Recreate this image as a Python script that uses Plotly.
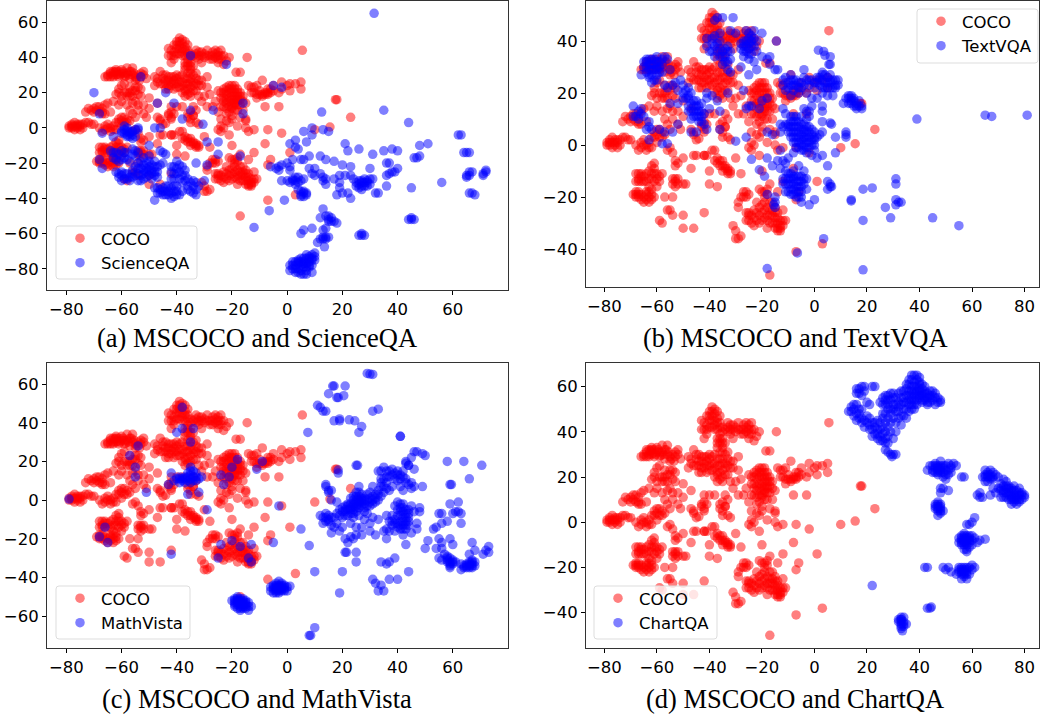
import plotly.graph_objects as go

coco_xy = [
(-79,1),(-78,0),(-78,2),(-77,3),(-76,0),(-76,2),(-75,1),(-75,-1),(-74,2),(-73,3),(-72,3),(-71,2),(-70,2),(-79,0),(-77,-1),(-74,0),
(-68,0),(-67,-2),(-66,1),(-66,-1),(-65,2),(-64,0),(-64,-2),(-63,1),(-62,3),(-62,-1),(-61,5),(-60,4),(-60,1),(-59,6),(-58,5),(-57,4),(-56,-2),(-54,-3),(-55,-1),(-53,-6),
(-73,9),(-72,11),(-70,11),(-69,10),(-68,12),(-67,11),(-66,13),(-68,9),(-65,14),(-64,9),(-66,8),(-63,15),(-61,13),(-60,15),
(-62,19),(-61,22),(-58,18),(-58,20),(-56,21),(-56,18),(-55,15),(-54,19),(-57,23),(-54,23),(-59,25),(-60,24),(-58,13),(-57,10),(-56,8),(-54,10),(-52,8),(-52,13),(-50,11),(-50,17),(-51,6),(-55,6),
(-66,29),(-65,30),(-64,31),(-64,29),(-63,32),(-63,30),(-62,33),(-62,30),(-61,32),(-61,29),(-60,31),(-60,33),(-59,29),(-58,31),(-58,34),(-57,28),(-57,32),(-56,30),(-56,34),(-55,27),(-55,29),(-54,30),(-53,29),(-52,30),(-52,32),(-51,28),
(-48,29),(-47,26),(-48,24),(-46,32),(-45,28),(-45,25),(-44,30),(-44,22),(-43,27),(-43,24),(-42,29),(-42,26),(-41,22),(-41,25),(-40,28),(-40,30),(-39,26),(-39,23),(-38,30),(-38,20),(-37,25),(-37,33),(-36,28),(-36,22),(-35,18),(-35,31),(-34,26),(-34,24),(-33,28),(-33,21),(-32,27),(-31,24),(-29,29),(-29,23),(-36,35),(-37,37),(-35,37),(-35,33),
(-43,41),(-43,45),(-42,37),(-41,41),(-41,43),(-41,47),(-40,49),(-40,45),(-39,51),(-39,47),(-39,42),(-38,50),(-38,48),(-38,45),(-37,49),(-37,41),(-37,44),(-36,39),(-36,42),(-35,40),(-33,44),(-33,42),(-32,43),(-32,39),(-31,37),(-31,41),(-30,40),(-29,44),(-28,41),(-27,39),(-27,43),(-26,44),(-26,40),(-25,37),(-25,41),(-24,39),(-24,44),(-23,41),(-23,36),(-22,38),(-21,40),(-14.5,40),
(-18.5,31.5),(-17,31.5),(5.5,44),
(-25,21),(-24,17),(-24,12),(-23,20),(-23,15),(-22,23),(-22,19),(-21,24),(-21,17),(-21,12),(-21,9),(-20,22),(-20,18),(-20,14),(-20,11),(-20,7),(-19,24),(-19,20),(-19,16),(-19,13),(-18,22),(-18,18),(-18,15),(-18,10),(-17,20),(-17,16),(-17,13),(-16,18),(-15,14),(-16,10),(-17,6),(-20,5),(-15,5),(-15,4),
(-14,24),(-13,20),(-12,23),(-11,24),(-11,17),(-10,19),(-9,18),(-9,27),(-8,20),(-8,12),(-7,19),(-7,22),(-6,20),(-6,22),(-5,21),(-5,24),(-3,12),(-3,20),(-2,22),(-2,26),(0,24),(1,25),(1,21),(3,25),(5,22),(5,26),(18,16),(17.5,16),(23,6),(15.5,0.5),(10,-1),
(-47,14),(-46,4),(-47,6),(-46,5),(-45,2),(-44,2.5),(-43,8),(-42,9),(-42,6),(-42,12),(-40,12),(-38,12),(-37,18),(-36,8),(-36,6),(-35,3),(-35,9),(-34,7),(-33,10),(-34,12),(-33,3),(-32,2),(-31,15),(-32,18),(-30,18),(-28,19),(-29,12),(-27,12),(-26,15),(-25,9),(-24,5),(-23,0),(-25,-1),(-24,-2),(-24,1),(-22,4),(-21,-4),(-21,3),(-18,1),(-15,0),(-14,-2),(-12,-1),(-7,-1),(-2,-3),(-30,-5),
(-50,-5),(-46,-4),(-45,-4),(-42,-4),(-41,-4),(-39,-2),(-38,-2),(-38,-6),(-37,-7),(-36,-6),(-36,-8),(-35,-8),(-34,-9),(-33,-10),(-33,-11),(-32,-11),(-47,-9),(-40,-10),(-40,-15),(-37,-16),(-28,-11),(-20,-10),(-8,-9),(-12,-14),(1,-14),(-6,-18),(-7,-21),
(-69,-19),(-68,-18),(-68,-20),(-67,-19),(-66,-21),(-68,-11),(-67,-13),(-68,-14),(-66,-11),(-65,-14),(-66,-12),(-65,-20),(-64,-21),(-64,-18),(-63,-22),(-63,-16),(-63,-10),(-62,-8),(-62,-13),(-62,-19),(-61,-7),(-61,-11),(-61,-20),(-60,-13),(-60,-16),(-59,-12),(-58,-11),(-57,-20),(-54,-15),(-54,-13),(-53,-14),(-52,-15),(-52,-13),(-53,-8),(-52,-7),(-50,-15),(-49,-15),(-54,-20),
(-59,-29),(-58,-30),(-56,-25),(-55,-25),(-54,-27),(-50,-27),(-50,-32),(-46,-32),(-42,-26),
(-28,-20),(-27,-18),(-26,-18),(-25,-19),(-29,-22),(-29,-24),(-26,-26),(-26,-29),(-25,-27),(-24,-30),(-23,-28),(-22,-22),(-22,-26),(-21,-17),(-21,-24),(-21,-30),(-20,-18),(-20,-26),(-19,-22),(-19,-28),(-18,-24),(-18,-19),(-18,-32),(-17,-25),(-17,-30),(-16,-22),(-16,-27),(-15,-24),(-15,-32),(-15,-28),(-14,-30),(-14,-26),(-14,-33),(-13,-32),(-13,-29),(-12,-29),(-11,-29),(-12,-25),(-14,-18),(-17,-15),
(-31,-31),(-30,-33),(-30,-36),(-29,-36),(-28,-35),(-7,-41),(3,-38),(-17,-50),
(-65,29),(-64,32),(-63,29),(-62.5,31.5),(-62,32),(-61.5,30.5),(-60.5,30),(-59.5,32),(-59,31),(-58.5,29.5),(-57.5,30),(-56.5,32),(-55.5,31),(-54.5,28),(-53.5,27),(-53,31),
(-61,20),(-60,18),(-59,20),(-57,18),(-57,20),(-55,21),(-55,23),(-53,22),(-53,18),(-56,14),(-54,13),
(-71,10),(-70,9),(-69,12),(-67,9),(-67,8),(-61,3),(-60,6),(-59,3),(-58,3),(-63,-1),(-65,0),(-77,1),(-76,1),(-78,1),(-75,2),
(-47,28),(-46,25),(-45,30),(-44,27),(-44,25),(-43,29),(-43,22),(-42,24),(-41,27),(-41,29),(-40,25),(-40,23),(-39,29),(-38,26),(-38,24),(-37,28),(-37,22),(-36,25),(-36,31),(-35,26),(-35,23),(-35,28),(-34,30),(-34,21),(-33,25),(-33,31),(-32,24),(-31,27),(-36,37),(-34,35),(-35,35),(-37,35),(-35,20),(-36,19),(-37,21),
(-42,44),(-42,41),(-41,39),(-40,42),(-40,47),(-39,45),(-39,49),(-38,43),(-38,41),(-37,46),(-36,44),(-36,47),(-35,42),(-34,41),(-33,40),(-32,41),(-31,43),(-30,42),(-29,41),(-28,39),(-27,41),(-26,42),(-25,39),(-24,41),(-25,43),
(-24,20),(-23,22),(-23,17),(-23,12),(-22,21),(-22,16),(-22,14),(-22,11),(-21,20),(-21,22),(-21,15),(-20,24),(-20,20),(-20,16),(-20,12),(-19,22),(-19,18),(-19,14),(-19,10),(-18,20),(-18,16),(-18,13),(-17,18),(-16,15),(-22,8),
(-12,20),(-11,19),(-10,21),(-9,19),(-8,19),(-7,20),(-13,23),
(-68,-19),(-67,-18),(-67,-20),(-66,-19),(-65,-22),(-64,-19),(-63,-20),(-63,-18),(-62,-21),(-62,-17),(-67,-11),(-67,-14),(-66,-14),(-65,-12),(-64,-14),(-64,-11),(-63,-13),(-62,-11),(-61,-9),(-61,-14),(-60,-11),(-59,-14),(-53,-13),(-53,-16),
(-27,-20),(-26,-20),(-25,-26),(-25,-29),(-24,-27),(-23,-25),(-23,-31),(-22,-29),(-21,-27),(-20,-23),(-20,-29),(-19,-25),(-19,-20),(-18,-27),(-18,-29),(-17,-22),(-17,-27),(-16,-25),(-16,-30),(-15,-26),(-15,-30),(-14,-28),(-13,-31),(-14,-32),(-13,-33),(-12,-31),(-19,-18),(-18,-17),
(-42,-4),(-37,-5),(-35,-6),(-34,-8),(-33,-9),(-35,-10),(-32,-10),(-34,7),(-35,5),(-43,7),(-41,8),(-42,5),
]

scienceqa_xy = [
(31.5,65),(-70,20),(-68,8),(-44,20),(-41,14),(-47,14),(-26.8,10),(-35,10),(-35,41),(-22,36),(-53,29),(-5,24),(-2,23),(-16,14),(-16,8),(-38,5),(-30.5,2),(-46,0),(-48,0),
(-60,-3),(-59,1),(-59,-3),(-58,-2),(-58,-4),(-57,-2),(-57,-5),(-56,-4),(-55,-5),(-55,-1),(-54,0),(-54,-1),(-63,-5),(-67,-3),(-29,-8),(-25,-8),(-25,-15),(-17,-16),
(-64,-13),(-63,-17),(-62,-14),(-61,-19),(-60,-13),(-60,-18),(-59,-14),(-58,-18),(-57,-19),(-56,-12),(-55,-13),(-54,-14),(-68,-18),(-67,-23),(-62,-25),(-61,-28),(-60,-27),(-60,-30),(-59,-26),(-58,-29),(-57,-30),(-56,-28),(-56,-24),(-55,-22),(-54,-26),(-54,-30),(-53,-19),(-53,-27),(-52,-17),(-52,-21),(-52,-24),(-52,-29),(-51,-25),(-51,-20),(-50,-16),(-50,-22),(-50,-27),(-50,-10),(-49,-29),(-48,-25),(-48,-19),(-48,-34),(-47,-22),(-47,-28),(-47,-37),(-46,-13),(-45,-14),(-45,-20),(-46,-35),(-45,-38),(-48,-41),(-44,-15),(-44,-36),(-43,-33),(-43,-38),(-42,-25),(-42,-29),(-42,-40),(-41,-36),(-41,-22),(-40,-19),(-40,-26),(-40,-33),(-39,-21),(-39,-38),(-38,-27),(-38,-31),(-38,-36),(-37,-24),(-36,-29),(-36,-33),(-35,-36),(-34,-37),(-34,-30),(-33,-31),(-33,-35),(-33,-38),(-32,-33),(-30,-30),(-33,-20),(-29,-21),
(-6,-22),(-4,-23),(-3,-24),(-3,-22),(-2,-21),(0,-20),(1,-22),(1,-24),(2,-18),(-2,-30),(0,-30),(1,-31),(2,-29),(3,-32),(3,-30),(4,-31),(4,-28),(5,-30),(6,-29),(5,-18),(6,-18),(5,-36),(5,-39),(6,-37),(6,-39),(7,-38),(4,-35),(1,-9),(3,-7),(3,-11),(4,-12),(6,-2),(9,0),(9,-4),(13,-1),(15,-2),(7,-8),
(8,-16),(8,-23),(9,-26),(10,-23),(10,-27),(12,-26),(13,-28),(13,-30),(14,-32),(14,-29),(12,-16),(14,-18),(13,-46),(12,-51),(14,-50),(15,-50),(16,-51),(15,-53),(17,-53),(18,-54),(14,-57),(13,-58),(12,-63),(13,-63),(14,-62),(15,-62),(11,-65),(13.5,-67.5),(5,-60),(6,-58),(9,-57),(-6.5,-47),(-1,-41),(-12,-56.5),(12.5,9),
(17,-29),(17,-19),(18,-38),(19,-27),(19,-31),(19,-34),(20,-21),(20,-37),(21,-27),(21,-9),(22,-13),(22,-37),(23,-27),(23,-22),(23,-40),(24,-29),(26,-12),(25,-33),(26,-32),(26,-34),(27,-30),(27,-35),(27,-33),(28,-31),(28,-29),(29,-33),(29,-30),(30,-29),(30,-32),(31,-29),(31,-15),(30,-23),(32,-37),(33,-37),(35,-13),(36,-20),(37,-20),(36,-27),(37,-26),(38,-25),(38,-12),(39,-25),(40,-23),(40,-13),(36,-33),(35,10),(44,3),(45,-34),(44,-52),(45,-52),(46,-52),(45,-51),(46,-17),(47,-17),(48,-16),(48,-10),(51,-9),(56,-31),(62,-4),(63,-4),(64,-14),(65,-14),(66,-14),(65,-28),(65,-27),(66,-27),(66,-25),(67,-25),(66,-37),(67,-37),(68,-38),(71,-27),(71,-26),(72,-25),(72,-24),(26,-61),(27,-61),(28,-61),(27,-60),
(1,-78),(1,-81),(2,-76),(2,-80),(3,-78),(3,-82),(4,-75),(4,-77),(4,-80),(5,-74),(5,-78),(5,-81),(6,-76),(6,-79),(6,-83),(7,-74),(7,-77),(7,-81),(8,-73),(8,-76),(8,-79),(9,-75),(9,-72),(9,-82),(10,-73),(10,-71),(10,-75),(7,-72),(9,-78),
(-59,-1),(-58,0),(-58,-5),(-57,-3),(-56,-2),(-56,-6),(-60,-2),(-63,-14),(-62,-18),(-61,-15),(-59,-17),(-58,-14),(-56,-15),(-55,-16),
(-61,-26),(-60,-25),(-59,-29),(-58,-26),(-57,-28),(-56,-26),(-55,-27),(-54,-23),(-54,-20),(-53,-23),(-53,-30),(-52,-26),(-51,-23),(-51,-28),(-50,-19),(-50,-24),(-49,-26),(-49,-21),(-49,-24),(-48,-22),(-48,-27),(-47,-25),(-46,-21),
(-47,-34),(-46,-37),(-45,-34),(-45,-36),(-44,-38),(-44,-33),(-43,-36),(-42,-34),(-42,-37),(-41,-39),(-41,-33),(-40,-36),(-40,-38),(-42,-22),(-41,-26),(-41,-29),(-40,-23),(-39,-25),(-39,-29),(-38,-22),(-37,-27),(-37,-30),(-36,-35),(-35,-31),(-34,-33),
(4,-76),(3,-80),(5,-76),(6,-77),(6,-74),(7,-79),(8,-78),(8,-74),(4,-82),(5,-83),(7,-83),(9,-74),(2,-78),(3,-76),
(28,-33),(29,-31),(27,-31),(25,-31),(26,-30),(15,-52),(16,-53),(13,-62),(14,-63),(5,-38),(6,-36),(7,-37),(2,-30),(3,-28),
]

textvqa_xy = [
(-65,32),(-65,30),(-64,33),(-64,28),(-63,31),(-63,26),(-62,33),(-62,29),(-61,25),(-61,31),(-60,27),(-60,34),(-59,30),(-58,33),(-58,28),(-57,34),(-56,33),(-66,27),(-62,24),(-60,25),(-55,29),
(-57,23),(-56,22),(-54,23),(-53,24),(-52,21),(-51,25),(-50,23),(-50,20),(-49,18),(-48,22),(-47,16),(-48,15),(-46,17),(-46,13),(-45,15),(-45,11),(-44,9),(-44,13),(-43,11),(-42,12),(-43,16),(-41,20),(-41,18),(-39,19),(-47,10),(-52,16),(-55,16),(-48,13),(-42,8),(-40,14),(-37,17),(-36,13),(-33,20),(-27,21),(-25,15),(-26,14),(-24,15),(-21,14),(-20,17),(-18,18),(-18,5),(-16,4),
(-69,15),(-69,11),(-68,11),(-67,13),(-67,10),(-66,12),(-66,14),(-65,11),(-64,6),(-63,9),(-62,6),(-63,7),(-59,6),(-57,5),(-54,5),(-52,8),(-63,2),(-58,0.5),
(-41,38),(-41,41),(-40,36),(-39,39),(-39,36),(-38,34),(-38,48),(-38,42),(-37,36),(-37,49),(-36,34),(-36,43),(-35,49),(-35,31),(-34,37),(-34,32),(-33,36),(-32,36),(-32,33),(-31,49),(-32,44),(-30,43),(-28,30),(-28,37),(-27,38),(-27,34),(-26,44),(-26,40),(-26,36),(-25,41),(-25,37),(-25,33),(-24,38),(-24,42),(-24,35),(-23,32),(-22,40),(-22,36),(-23,44),(-20,43),(-20,34),(-18,33),(-17,34),(-17,31),(-15,29),(-14,29),(-14.5,40),(-22,29),(-25,27),(-32,28),(-33,29),
(-12,23),(-12,25),(-11,26),(-11,21),(-10,24),(-9,19),(-9,23),(-9,27),(-8,21),(-8,25),(-7,23),(-6,20),(-6,24),(-5,22),(-4,29),(-4,26),(-4,23),(-3,25),(-3,20),(-2,23),(-1,18),(-1,25),(0,22),(1,24),(1,18),(2,26),(2,23),(3,25),(3,28),(3,20),(4,22),(4,27),(5,24),(5,19),(6,27),(6,22),(7,25),(7,19),(8,22),(8,25),(9,25),(9,23),(1.5,36.5),(3.5,36),(4,34.5),(6,34),(6,31),(5.5,31),
(11,16),(12,18),(13,19),(13,16),(14,18),(14,17),(15,15),(15,18),(16,14),(16,16),(17,17),(18,15),(18,14),(17,15),
(-13,8),(-12,7),(-12,14),(-13,5),(-11,8),(-11,12),(-10,5),(-10,8),(-9,3),(-9,7),(-9,11),(-8,1),(-8,5),(-8,9),(-8,-3),(-7,-1),(-7,3),(-7,7),(-7,11),(-6,5),(-6,1),(-6,9),(-5,2),(-5,-2),(-5,6),(-5,11),(-4,3),(-4,0),(-4,14),(-4,8),(-3,5),(-3,-3),(-3,1),(-3,13),(-2,3),(-2,-1),(-2,7),(-2,11),(-1,4),(-1,0),(-1,-4),(-1,15),(0,2),(0,5),(0,-2),(1,3),(1,-5),(2,4),(3,5),(3,9),(3,13),(3,15),(6,8.5),(6.5,8),(12,5),(12,4),(12,3),(8,3),(8,-3),(3,-4),(5,-8),
(-18,-5),(-16,-8),(-14,-6),(-13,-2),(-13,-9),(-12,-13),(-12,-6),(-11,-7),(-11,-10),(-11,-15),(-10,-13),(-10,-5),(-10,-18),(-9,-11),(-9,-15),(-9,-19),(-8,-13),(-8,-17),(-8,-10),(-7,-12),(-7,-16),(-7,-20),(-6,-14),(-6,-18),(-6,-8),(-5,-12),(-5,-16),(-5,-20),(-4,-10),(-3,-17),(-3,-13),(-15,-22),(-15,-20),(-15,-24),(-19,-12),(-18,-19),(-15.5,-23),(-5,-22),(-2,-23),(0,-21),(5,-17),(6,-15),(6,-16),(6.5,-16),(5,-14),
(14,-21.5),(14,-21),(18.5,-17),(22,-16.5),(31,-13),(31,-15),(31,-21),(32,-22),(31,-23),(33,-22),(27,-24),(29,-28),(18.5,-29),(45,-28),(55,-31),(3.5,-36),(-6.5,-41.5),(-18,-47.5),(18.5,-48),(39,10),(65,11.5),(67.5,11),(81,11.5),
(-21,-9.5),(-24,-5.5),(-30,1.5),(-56,0.5),(-47,5),(-41,6),(-36,6),(-45,5),(-26,3),
(-64,30),(-64,32),(-63,29),(-63,33),(-62,31),(-62,27),(-61,29),(-61,33),(-60,30),(-60,32),(-59,32),(-59,28),(-58,31),(-63,27),(-60,29),
(-50,18),(-49,21),(-48,18),(-47,20),(-47,13),(-46,15),(-45,13),(-45,17),(-44,11),(-44,15),(-43,13),(-43,9),(-46,11),(-48,19),
(-39,41),(-38,38),(-37,39),(-36,37),(-36,40),(-35,36),(-35,34),(-34,34),(-33,32),(-33,38),(-27,40),(-26,38),(-25,35),(-25,39),(-25,43),(-24,40),(-23,38),(-23,41),(-27,36),(-28,39),
(-10,22),(-8,23),(-7,25),(-6,22),(-5,24),(-2,25),(0,24),(1,26),(2,25),(3,22),(3,27),(4,24),(5,26),(5,22),(6,25),(6,24),(7,22),(8,23),(-9,25),(14,16),(15,17),(16,15),(13,18),(14,19),
(-10,7),(-9,5),(-9,9),(-8,3),(-8,7),(-8,11),(-7,1),(-7,5),(-7,9),(-6,3),(-6,7),(-6,-1),(-5,4),(-5,0),(-5,8),(-4,5),(-4,2),(-4,6),(-4,-2),(-3,3),(-3,7),(-3,-1),(-2,5),(-2,1),(-1,2),(-1,6),(0,0),(0,3),(-2,13),(-3,10),
(-11,-13),(-10,-15),(-10,-11),(-9,-13),(-9,-17),(-8,-15),(-8,-19),(-8,-12),(-7,-14),(-7,-18),(-6,-16),(-6,-12),(-6,-20),(-5,-14),(-5,-18),(-4,-15),(-4,-13),(-12,-15),(-11,-18),
]

mathvista_xy = [
(29,65.5),(30,65.2),(31,65),(17,59),(16.5,59),(21,59),(15,55),(18,53),(18.5,53),(20.5,54),(11,49),(12,48),(13,46),(14,46),(31,46),(33,47),(17,41),(19,41),(19,42),(22.5,41.5),(24.5,41),(27,38),(26,35),(7.5,35),(41,33),(41,33),(47,25),(49,24),(46,25),(45,22),(50,23),(43,20),(44,18),(46,16),(58,20),(64,20),(70.5,18),(66,11),(59,8),(59.5,8),(25,18),(25.5,18),
(12,-8),(13,-9),(13,-12),(14,-7),(14,-11),(15,-8),(15,-10),(16,-13),(16,-17),(17,-9),(17,-14),(18,-7),(18,-12),(19,-5),(19,-16),(20,-4),(20,-9),(20,-14),(21,-3),(21,-6),(21,-20),(22,-2),(22,-5),(22,-8),(22,-22),(23,1),(23,-4),(23,-7),(23,-12),(23,-19),(24,2),(24,-2),(24,-5),(24,-9),(24,-20),(25,4),(25,0),(25,-3),(25,-6),(25,-14),(25,-18),(26,2),(26,-1),(26,-4),(26,-8),(26,7),(27,3),(27,0),(27,-3),(27,-18),(28,1),(28,-2),(28,-6),(28,-10),(29,3),(29,-3),(30,4),(30,-1),(30,-12),(30,-16),(31,7),(31,2),(31,-2),(31,-9),(32,3),(32,-1),(32,-18),(33,15),(33,5),(33,0),(33,-10),(34,15),(34,7),(34,2),(34,11),(35,17),(35,4),(35,11),(35,-16),(36,15),(36,9),(36,-8),(36,-15),(37,12),(37,5),(37,-11),(37,-16),(38,16),(38,7),(38,-8),(38,-13),(39,14),(39,-3),(39,-10),(39,-16),(40,15),(40,10),(40,-1),(40,-5),(40,-12),(41,13),(41,7),(41,-4),(41,-8),(41,-11),(41,-15),(42,15),(42,5),(42,-2),(42,-6),(42,-9),(42,-13),(42,-18),(43,11),(43,19),(43,-7),(43,-11),(43,-15),(43,-23),(44,18),(44,8),(44,-5),(44,-9),(44,-13),(45,9),(45,6),(45,-3),(45,-17),(46,7),(46,-6),(47,-12),(47,-15),(48,-6),(48,-4),(49,7),(29,-7),(27,-14),(36,-20),
(18.5,14),(18.5,15.5),(14,7),(14,8),(15,4),(15,5),(16,5),(16,0),(18,-1),
(53,-15),(54,-14),(54,-25),(55,-20),(56,-22),(56,-25),(55,-30),(56,-31),(57,-28),(58,-29),(58,-32),(59,-30),(59,-34),(59,-35),(60,-31),(60,-33),(61,-32),(63,-33),(64,-35),(63,-36),(65,-34),(65,-35),(66,-32),(66,-34),(67,-31),(67,-33),(67,-35),(68,-32),(68,-34),(66,-28),(68,-26),(71,-28),(72,-26),(73,-24),(73,-27),(67,-22),(59,-20),(60,-23),(50,-25),(51,-21),
(55,-7),(56,-7),(58,-11),(59,-2),(61,-6),(62,-1),(62,-6),(60,-7),(63,-7),(63,-12),(56,-12),
(19,-48),(10,-37),(20,-37),(21,-27),(21.5,-27),(25,-27),(25,-32),(34,-32),(36,-33),(37,-32),(39,-30),(44,-37),(37,-41),(40,-41),(31,-41),(32,-43),(34,-44),(33,-47),(35,-47),(8,-23.5),(5,-15),
(-6,-45),(-6,-47),(-5,-44),(-5,-46),(-5,-48),(-4,-43),(-4,-45),(-4,-47),(-3,-42),(-3,-44),(-3,-46),(-3,-48),(-2,-43),(-2,-45),(-2,-47),(-1,-44),(-1,-46),(1,-44.5),(0,-45),(0,-47),
(-20,-52),(-19,-51),(-19,-53),(-19,-55),(-18,-50),(-18,-52),(-18,-54),(-18,-56),(-17,-51),(-17,-53),(-17,-55),(-17,-57),(-16,-51),(-16,-53),(-16,-55),(-15,-52),(-15,-54),(-15,-56),(-14,-53),(-14,-55),(-13,-55),(-14,-57),
(-79,0.5),(-66,-14),(-68,-19),(-65,-22),(-57,23),(-54,28),(-55,17),(-55,12),(-51,4),(-42,14),(-43,8),(-40,35),(-38,48),(-38,37),(-34,37),(-35,30),
(-41,10),(-40,11),(-39,9),(-39,12),(-38,11),(-37,9),(-37,12),(-36,10),(-36,14),(-35,11),(-35,13),(-35,17),(-34,10),(-34,15),(-33,12),(-33,14),(-32,11),(-31,12),(-36,3),(-32,4),(-29,-5),(-25,-30),(-24,-23),(-24,13),(-21,12),(-23,8),(-20,17),(-18,21),(-20,-21),(-17,-24),(-13,-23),(-14,-30),(-13,-32),(-11,16),(-9,20),(-3,-3),(-5,-22),(-42,-28),
(8,-70),(8.5,-70),(10,-66),
(21,-5),(22,-3),(23,-2),(23,-5),(24,0),(24,-3),(24,-7),(25,2),(25,-1),(25,-4),(26,0),(26,4),(26,-2),(27,1),(27,-1),(28,0),(28,-4),(29,0),(30,1),(30,-3),(31,0),(32,1),(33,3),(35,7),(36,6),(21,-8),(20,-6),(19,-8),(16,-9),(15,-11),(14,-9),
(40,-8),(41,-6),(41,-13),(42,-11),(42,-4),(42,-15),(43,-9),(43,-13),(43,-5),(44,-11),(44,-7),(40,-14),(39,-12),(38,-11),(41,-2),
(40,13),(41,11),(39,11),(38,13),(42,12),(43,9),(37,15),(34,9),(36,12),
(58,-30),(58,-31),(59,-32),(59,-33),(60,-32),(65,-33),(66,-33),(67,-32),(67,-34),(66,-35),(64,-34),
(-4,-46),(-3,-45),(-4,-44),(-2,-44),(-2,-46),(-3,-47),(-5,-45),(-1,-45),(-1,-47),(-4,-48),
(-18,-53),(-17,-52),(-17,-54),(-16,-52),(-16,-54),(-16,-56),(-15,-53),(-15,-55),(-18,-51),(-17,-56),(-19,-52),(-19,-54),
(-38,10),(-37,11),(-36,12),(-35,9),(-34,12),(-35,15),(-39,11),(-33,10),
]

chartqa_xy = [
(13,49),(14,51),(15,47),(15,52),(16,45),(17,50),(17,46),(18,44),(19,42),(20,47),(21,43),(22,41),(23,39),(24,45),(24,37),(25,41),(26,46),(26,36),(27,40),(27,35),
(16,57),(17,59),(18,60),(18,56),(19,58),(20,53),(21,52),(22,60),(23,60),
(25,53),(26,55),(27,56),(27,52),(28,54),(29,57),(29,50),(30,52),(30,55),(31,49),(31,44),(32,57),(32,53),(33,47),(33,43),(33,55),(34,50),(34,58),(35,53),(35,56),(35,46),(36,61),(36,58),(36,54),(36,49),(37,63),(37,65),(37,60),(37,56),(37,52),(38,65),(38,62),(38,58),(38,54),(38,50),(39,63),(39,60),(39,56),(39,52),(40,64),(40,61),(40,58),(40,55),(41,59),(41,56),(41,53),(42,57),(42,54),(42,60),(43,55),(43,52),(44,58),(44,55),(45,56),(46,57),(46,52),(47,55),(48,54),(48,53),
(28,46),(28,42),(28,38),(29,44),(29,40),(30,37),(30,46),(31,40),(27,32),(28,31),(29,30),(30,30),(29.5,29),(31,30),
(43,23),(44,25),(45,22),(45,25),(46,26),(46,24),(47,21),(47,23),(47,25),(48,24),(48,27),(48,22),(49,20),(49,25),(50,19),(50,23),(51,21),(51,26),(52,25),(53,26),(54,25),(52,22),
(48,15),(49,15),(48,13),(51,14),(56,20),(57,20),(47,9),(47,7),(47,5),(46,6),(46,8),(48,4),(48,6),(48,8),(49,5),(47,3),
(65,21),(64,20),(65,23),(66,18),(66,22),(67,23),(67,20),(68,22),(68,19),(69,21),(70,20),(65,18),
(62,12),(63,11),(63,13),(64,11),(67,12),
(71,14),(71,17),(72,13),(72,16),(72,19),(73,11),(73,15),(73,18),(74,10),(74,13),(74,16),(75,8),(75,11),(75,14),(76,9),(76,12),(76,16),(77,8),(77,11),(77,14),(78,9),(78,12),(78,15),(79,10),(79,13),(80,12),(80,11),(69,13),(68,15),(70,15),(71,11),
(58,-1),(59,-1),(60,0),(61,2),
(55,-7),(55,-9),(56,-6),(56,-8),(56,-10),(57,-5),(57,-7),(57,-9),(57,-12),(58,-6),(58,-8),(58,-10),(58,-13),(59,-6),(59,-8),(59,-11),(60,-8),(60,-10),(61,-7),(62,-9),(65,-7.5),(60,-6),(63,-8),
(42,-20),(43,-20),(49,-20),(50,-21),(51,-20),(52,-22),(54,-23),(55,-20),(55,-22),(56,-20),(56,-23),(56,-25),(57,-21),(57,-24),(58,-20),(58,-22),(58,-25),(59,-20),(59,-23),(60,-21),(60,-19),(61,-20),
(22,-28),(43,-38),(44,-38),(44.5,-37.5),(33,-43),(33,-45),(33,-47),(34,-42),(34,-44),(34,-46),(32,-43),(32,-44),(33.5,-48),(35,-45),
(14,49),(15,50),(16,48),(16,52),(17,48),(18,46),(18,50),(19,45),(20,44),(21,46),(21,41),(22,44),(22,38),(23,42),(23,44),(24,41),(24,39),(25,38),(25,44),(25,36),(26,39),(26,42),(26,48),(27,44),(27,37),(27,48),(28,50),(28,35),(16,59),(17,57),(19,60),
(26,52),(27,54),(28,56),(28,52),(29,54),(29,48),(30,50),(30,57),(31,52),(31,55),(32,49),(32,46),(32,51),(33,52),(33,58),(34,53),(34,55),(34,47),(35,50),(35,59),(35,61),(36,52),(36,56),(36,63),(37,54),(37,58),(37,50),(38,60),(38,56),(38,52),(39,58),(39,54),(39,65),(40,62),(40,59),(40,56),(41,61),(41,57),(41,54),(42,58),(42,55),(43,57),(43,53),(44,56),(44,53),(45,54),(45,58),(46,55),(47,53),
(45,23),(46,22),(46,25),(47,24),(47,22),(48,23),(48,25),(49,22),(49,24),(50,21),(50,25),(51,23),(52,24),
(47,6),(47,8),(46,7),(48,7),(48,5),(65,20),(66,20),(66,21),(67,21),(67,19),(68,20),
(72,14),(73,13),(73,16),(74,12),(74,15),(75,10),(75,12),(75,15),(76,10),(76,14),(77,10),(77,12),(78,10),(78,13),(79,12),(72,11),(71,15),
(56,-7),(56,-9),(57,-8),(57,-6),(58,-7),(58,-9),(59,-7),(59,-9),(57,-10),(58,-12),
(56,-21),(56,-22),(57,-22),(57,-23),(58,-21),(58,-23),(57,-20),(55,-21),
(33,-44),(33,-46),(34,-45),(33,-43),(33,-42),
]

series_names = ["ScienceQA", "TextVQA", "MathVista", "ChartQA"]
series_points = [scienceqa_xy, textvqa_xy, mathvista_xy, chartqa_xy]
captions = ["(a) MSCOCO and ScienceQA", "(b) MSCOCO and TextVQA", "(c) MSCOCO and MathVista", "(d) MSCOCO and ChartQA"]
x_ticks = [[-80,-60,-40,-20,0,20,40,60], [-80,-60,-40,-20,0,20,40,60,80], [-80,-60,-40,-20,0,20,40,60], [-80,-60,-40,-20,0,20,40,60,80]]
y_ticks = [[-80,-60,-40,-20,0,20,40,60], [-40,-20,0,20,40], [-60,-40,-20,0,20,40,60], [-40,-20,0,20,40,60]]

W, H = 1040, 717
panels = [
    dict(box=(47,508,1,290), xr=(-87,80), yr=(-92,72), legend=(56,197,226,279), cap=(257,338)),
    dict(box=(586,1039,1,287), xr=(-87,85.5), yr=(-54.6,55.4), legend=(917,1038,9,63), cap=(795,338)),
    dict(box=(47,508,363,648), xr=(-87,80), yr=(-76.5,70.9), legend=(56,190,586,639), cap=(257,699)),
    dict(box=(586,1039,363,648), xr=(-87,85.5), yr=(-55.6,70.4), legend=(594,717,586,639), cap=(795,699)),
]

FONT = "DejaVu Sans"


def rounded(l, r, t, b, c=3):
    X = lambda v: v / W
    Y = lambda v: 1 - v / H
    return (f"M {X(l+c)},{Y(t)} L {X(r-c)},{Y(t)} Q {X(r)},{Y(t)} {X(r)},{Y(t+c)} L {X(r)},{Y(b-c)} Q {X(r)},{Y(b)} {X(r-c)},{Y(b)} "
            f"L {X(l+c)},{Y(b)} Q {X(l)},{Y(b)} {X(l)},{Y(b-c)} L {X(l)},{Y(t+c)} Q {X(l)},{Y(t)} {X(l+c)},{Y(t)} Z")


fig = go.Figure()
layout = dict(width=W, height=H, margin=dict(l=0, r=0, t=0, b=0), plot_bgcolor="white", paper_bgcolor="white",
              font=dict(family=FONT, size=16.5, color="black"), annotations=[], shapes=[])

for i, p in enumerate(panels):
    s = "" if i == 0 else str(i + 1)
    leg = "legend" + s
    ax = "x" + s
    ay = "y" + s
    for name, pts, col in (("COCO", coco_xy, "red"), (series_names[i], series_points[i], "blue")):
        fig.add_trace(go.Scatter(x=[q[0] for q in pts], y=[q[1] for q in pts], mode="markers", name=name,
                                 xaxis=ax, yaxis=ay, legend=leg,
                                 marker=dict(color=col, size=9.5, opacity=0.5, line=dict(width=0))))
    l, r, t, b = p["box"]
    common = dict(showgrid=False, zeroline=False, showline=True, mirror=True, linecolor="#333333", linewidth=1,
                  ticks="outside", ticklen=4, tickwidth=1, tickcolor="black", tickfont=dict(family=FONT, size=16.5, color="black"))
    layout["xaxis" + s] = dict(domain=[l / W, r / W], range=list(p["xr"]), anchor=ay, tickmode="array", tickvals=x_ticks[i], **common)
    layout["yaxis" + s] = dict(domain=[1 - b / H, 1 - t / H], range=list(p["yr"]), anchor=ax, tickmode="array", tickvals=y_ticks[i], **common)
    ll, lr, lt, lb = p["legend"]
    layout["shapes"].append(dict(type="path", path=rounded(ll, lr, lt, lb), xref="paper", yref="paper", layer="above",
                                 fillcolor="rgba(255,255,255,0.8)", line=dict(color="#dddddd", width=1)))
    layout[leg] = dict(x=(ll + 3) / W, y=1 - (lt - 5) / H, xanchor="left", yanchor="top", xref="paper", yref="paper",
                       bgcolor="rgba(0,0,0,0)", borderwidth=0, itemwidth=32,
                       font=dict(family=FONT, size=16.5, color="black"), tracegroupgap=0, itemsizing="trace")
    cx, cy = p["cap"]
    layout["annotations"].append(dict(text=captions[i], xref="paper", yref="paper", x=cx / W, y=1 - cy / H, xanchor="center", yanchor="middle",
                                      showarrow=False, font=dict(family="Liberation Serif", size=26.5, color="black")))

fig.update_layout(**layout)
fig.write_html("out.html", config=dict(displayModeBar=False),
               post_script="document.body.style.margin='0';document.body.style.overflow='hidden';")
